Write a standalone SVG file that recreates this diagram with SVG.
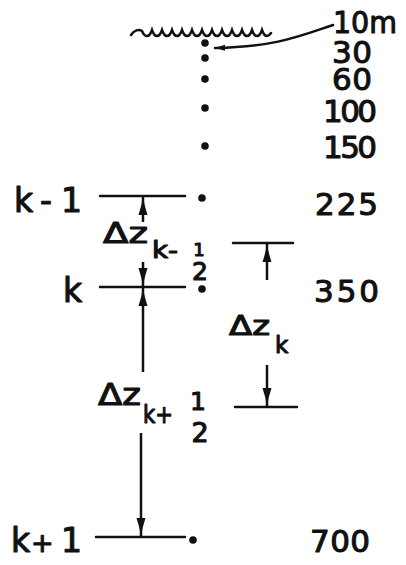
<svg xmlns="http://www.w3.org/2000/svg" width="406" height="565" viewBox="0 0 406 565">
<style>
text{font-family:"DejaVu Sans","Liberation Sans",sans-serif;fill:#111;stroke:#111;stroke-width:1.1;stroke-linejoin:round}
.num{font-size:31px}
.lab{font-size:33px}
.line{stroke:#111;stroke-width:2.5;fill:none;stroke-linecap:round}
.dot{fill:#111}
.arr{stroke:#111;stroke-width:2.5;fill:none;marker-end:url(#ah)}
</style>
<defs>
<marker id="ah" markerUnits="userSpaceOnUse" markerWidth="20" markerHeight="12" refX="18" refY="5" orient="auto">
<path d="M0,0.5 Q9,3.5 18,5 Q9,6.5 0,9.5 Z" fill="#111"/>
</marker>
<marker id="ahs" markerUnits="userSpaceOnUse" markerWidth="12" markerHeight="8" refX="10" refY="3" orient="auto">
<path d="M0,0 L10,3 L0,6 Z" fill="#111"/>
</marker>
</defs>
<rect width="406" height="565" fill="#fff"/>
<g id="surface">
<path class="line" d="M131,35 C134,30 139,29 142,31 q2,5 5,5 q3,0 5,-6 q2,6 5,6 q3,0 5,-6 q2,6 5,6 q3,0 5,-6 q2,6 5,6 q3,0 5,-6 q2,6 5,6 q3,0 5,-6 q2,6 5,6 q3,0 5,-6 q2,6 5,6 q3,0 5,-6 q2,6 5,6 q3,0 5,-6 q2,6 5,6 q3,0 5,-6 q2,6 5,6 q3,0 5,-6 q2,6 5,6 q3,0 5,-6 q2,6 5,6 q3,0 5,-6 q2,6 5,6 q2,0 4,-3" stroke-width="2.8"/>
<text class="num" x="333" y="33" textLength="64" lengthAdjust="spacingAndGlyphs">10m</text>
</g>
<g id="level-30"><circle class="dot" cx="205" cy="43" r="3.8"/><text class="num" x="332" y="63" textLength="40">30</text></g>
<g id="level-60"><circle class="dot" cx="205" cy="58" r="3.8"/><text class="num" x="332" y="90" textLength="40">60</text></g>
<g id="level-100"><circle class="dot" cx="205" cy="79" r="3.8"/><text class="num" x="323" y="122" textLength="54">100</text></g>
<g id="level-150"><circle class="dot" cx="205" cy="108" r="3.8"/><text class="num" x="323" y="158" textLength="54">150</text></g>
<g id="dot-150"><circle class="dot" cx="205" cy="146" r="3.8"/></g>
<g id="level-k-1">
<text class="lab" y="212"><tspan x="14">k</tspan><tspan x="40">-</tspan><tspan x="61">1</tspan></text>
<line class="line" x1="100" y1="196" x2="185" y2="196"/>
<circle class="dot" cx="202" cy="198" r="3.8"/>
<text class="num" x="315" y="215" textLength="63">225</text>
</g>
<g id="level-k">
<text class="lab" x="63" y="302" font-size="35">k</text>
<line class="line" x1="100" y1="287" x2="185" y2="287"/>
<circle class="dot" cx="202" cy="289" r="3.8"/>
<text class="num" x="314" y="302" textLength="65">350</text>
</g>
<g id="level-k+1">
<text class="lab" y="552"><tspan x="11">k</tspan><tspan x="31" font-size="27">+</tspan><tspan x="61">1</tspan></text>
<line class="line" x1="96" y1="537" x2="185" y2="537"/>
<circle class="dot" cx="193" cy="540" r="3.8"/>
<text class="num" x="310" y="552" textLength="60">700</text>
</g>
<g id="half-k-1">
<line class="line" x1="233" y1="243" x2="293" y2="243"/>
</g>
<g id="half-k+1">
<line class="line" x1="235" y1="407" x2="297" y2="407"/>
</g>
<g id="label-dz-k-half">
<text x="103" y="243" font-size="29" textLength="45" lengthAdjust="spacingAndGlyphs">Δz</text>
<text x="152" y="258" font-size="23" textLength="26" lengthAdjust="spacingAndGlyphs">k-</text>
<text x="199" y="256" font-size="18" text-anchor="middle">1</text>
<text x="200" y="280" font-size="25" text-anchor="middle">2</text>
</g>
<g id="label-dz-k">
<text x="229" y="335" font-size="26" textLength="41" lengthAdjust="spacingAndGlyphs">Δz</text>
<text x="275" y="353" font-size="23">k</text>
</g>
<g id="label-dz-k+half">
<text x="98" y="405" font-size="30" textLength="43" lengthAdjust="spacingAndGlyphs">Δz</text>
<text x="143" y="423" font-size="24" textLength="30" lengthAdjust="spacingAndGlyphs">k+</text>
<text x="198" y="410" font-size="25" text-anchor="middle">1</text>
<text x="200" y="442" font-size="27" text-anchor="middle">2</text>
</g>
<g id="connectors">
<path class="line" d="M333,25 C300,36 275,47 215,48" stroke-width="2" style="marker-end:url(#ahs)"/>
<line class="arr" x1="143" y1="222" x2="143" y2="197"/>
<line class="arr" x1="143" y1="262" x2="143" y2="286"/>
<line class="arr" x1="143" y1="372" x2="143" y2="288"/>
<line class="arr" x1="141" y1="433" x2="141" y2="536"/>
<line class="arr" x1="267" y1="280" x2="267" y2="244"/>
<line class="arr" x1="267" y1="365" x2="267" y2="406"/>
</g>
</svg>
